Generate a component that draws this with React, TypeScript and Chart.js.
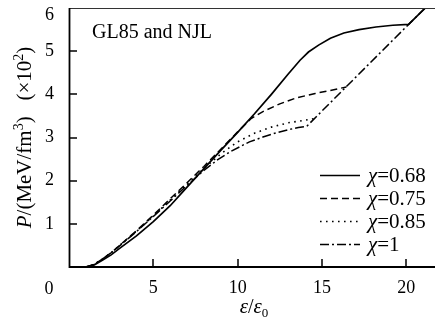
import React, { useEffect, useRef } from "react";
import { Chart, registerables } from "chart.js";

Chart.register(...registerables);

const xTicks = [5, 10, 15, 20];
const yTicks = [1, 2, 3, 4, 5];
const yTopTick = 6;
const chiLabels = ["0.68", "0.75", "0.85", "1"];

const eps068 = [1, 1.5, 2, 2.5, 3, 4, 5, 6, 7, 8, 9, 10, 11, 12, 13, 13.7, 14.2, 14.8, 15.5, 16.3, 17.2, 18.2, 19.2, 20.14, 21.2];
const p068 = [0, 0.05, 0.16, 0.28, 0.43, 0.72, 1.05, 1.42, 1.85, 2.28, 2.7, 3.12, 3.55, 4.0, 4.47, 4.79, 4.98, 5.14, 5.3, 5.42, 5.5, 5.56, 5.6, 5.62, 6.03];

const eps075 = [1, 1.5, 2, 2.5, 3, 4, 5, 6, 7, 8, 9, 10, 10.8, 11.5, 12.5, 13.5, 14.6, 15.5, 16.45];
const p075 = [0, 0.06, 0.19, 0.33, 0.5, 0.84, 1.2, 1.58, 1.95, 2.33, 2.73, 3.13, 3.44, 3.6, 3.78, 3.92, 4.02, 4.09, 4.17];

const eps085 = [1, 1.5, 2, 2.5, 3, 4, 5, 6, 7, 8, 9, 10, 11, 12, 13, 14, 14.55];
const p085 = [0, 0.06, 0.19, 0.33, 0.5, 0.83, 1.18, 1.55, 1.92, 2.28, 2.62, 2.9, 3.1, 3.24, 3.34, 3.4, 3.44];

const eps1 = [1, 1.5, 2, 2.5, 3, 4, 5, 6, 7, 8, 8.8, 9.6, 10.7, 11.5, 12.2, 13, 13.6, 14.1, 16.45, 20.14, 21.2];
const p1 = [0, 0.06, 0.19, 0.33, 0.49, 0.82, 1.17, 1.53, 1.89, 2.24, 2.48, 2.68, 2.9, 3.01, 3.1, 3.18, 3.23, 3.26, 4.18, 5.62, 6.03];

const SERIF = '"Liberation Serif", "Times New Roman", serif';
const dashes: number[][] = [[], [7, 4], [1.6, 4.4], [9, 3, 2, 3]];
const widths = [1.7, 1.5, 1.6, 1.5];

const toPts = (xs: number[], ys: number[]) => xs.map((x, i) => ({ x, y: ys[i] }));

function drawParts(ctx: CanvasRenderingContext2D, parts: { t: string; f: string; dy?: number }[], x: number, y: number, align: "center" | "left") {
  let total = 0;
  const ws = parts.map((p) => {
    ctx.font = p.f;
    const w = ctx.measureText(p.t).width;
    total += w;
    return w;
  });
  let cx = align === "center" ? x - total / 2 : x;
  parts.forEach((p, i) => {
    ctx.font = p.f;
    ctx.fillText(p.t, cx, y + (p.dy || 0));
    cx += ws[i];
  });
}

const noPad = (s: any) => {
  s.paddingTop = 0;
  s.paddingBottom = 0;
  s.paddingLeft = 0;
  s.paddingRight = 0;
};

const decor = {
  id: "decor",
  afterDraw(chart: any) {
    const ctx: CanvasRenderingContext2D = chart.ctx;
    const { left, right, top, bottom } = chart.chartArea;
    const xs = chart.scales.x;
    const ys = chart.scales.y;
    ctx.save();
    ctx.globalAlpha = 1;
    ctx.setLineDash([]);
    // frame
    ctx.lineWidth = 1.2;
    ctx.strokeStyle = "#333";
    ctx.beginPath();
    ctx.moveTo(left, top + 0.5);
    ctx.lineTo(right, top + 0.5);
    ctx.lineTo(right, bottom);
    ctx.stroke();
    ctx.strokeStyle = "#000";
    ctx.lineWidth = 1.8;
    ctx.beginPath();
    ctx.moveTo(left + 0.5, top);
    ctx.lineTo(left + 0.5, bottom);
    ctx.lineTo(right, bottom);
    ctx.stroke();
    // inward ticks
    ctx.fillStyle = "#000";
    xTicks.forEach((v) => {
      const px = xs.getPixelForValue(v);
      ctx.fillRect(Math.round(px) - 0.75, bottom - 8, 1.5, 8);
    });
    yTicks.forEach((v) => {
      const py = ys.getPixelForValue(v);
      ctx.fillRect(left, Math.round(py) - 0.75, 8, 1.5);
    });

    ctx.fillStyle = "#000";
    ctx.textBaseline = "alphabetic";
    ctx.textAlign = "center";
    ctx.font = `18px ${SERIF}`;
    ctx.fillText("0", 49, 294);
    ctx.textAlign = "right";
    ctx.fillText(String(yTopTick), left - 15, 20);
    ctx.textAlign = "left";
    drawParts(ctx, [
      { t: "ε", f: `italic 21px ${SERIF}` },
      { t: "/", f: `20px ${SERIF}` },
      { t: "ε", f: `italic 21px ${SERIF}` },
      { t: "0", f: `13px ${SERIF}`, dy: 4 },
    ], 254, 313, "center");
    ctx.save();
    ctx.translate(31, (top + bottom) / 2);
    ctx.rotate(-Math.PI / 2);
    drawParts(ctx, [
      { t: "P", f: `italic 21px ${SERIF}` },
      { t: "/(MeV/fm", f: `21px ${SERIF}` },
      { t: "3", f: `14px ${SERIF}`, dy: -8 },
      { t: ")   (×10", f: `21px ${SERIF}` },
      { t: "2", f: `14px ${SERIF}`, dy: -8 },
      { t: ")", f: `21px ${SERIF}` },
    ], 0, 0, "center");
    ctx.restore();
    ctx.font = `20px ${SERIF}`;
    ctx.fillText("GL85 and NJL", 92, 38);
    const rows = [175, 198, 221, 244];
    rows.forEach((ry, i) => {
      ctx.lineWidth = widths[i];
      ctx.setLineDash(dashes[i]);
      ctx.beginPath();
      ctx.moveTo(320, ry + 0.5);
      ctx.lineTo(360, ry + 0.5);
      ctx.stroke();
      ctx.setLineDash([]);
      drawParts(ctx, [
        { t: "χ", f: `italic 21px ${SERIF}` },
        { t: "=" + chiLabels[i], f: `21px ${SERIF}` },
      ], 368, ry + 7, "left");
    });
    ctx.restore();
  },
};

export default function App() {
  const ref = useRef<HTMLCanvasElement>(null);
  useEffect(() => {
    if (!ref.current) return;
    const series = [toPts(eps068, p068), toPts(eps075, p075), toPts(eps085, p085), toPts(eps1, p1)];
    const chart = new Chart(ref.current, {
      type: "line",
      data: {
        datasets: series.map((d, i) => ({
          label: "χ=" + chiLabels[i],
          data: d,
          borderColor: "#000",
          borderWidth: widths[i],
          borderDash: dashes[i],
          pointRadius: 0,
          fill: false,
          tension: 0,
        })),
      },
      options: {
        animation: false,
        responsive: false,
        devicePixelRatio: 1,
        layout: { padding: { top: 8, right: 10, left: 0, bottom: 0 } },
        plugins: { legend: { display: false }, tooltip: { enabled: false } },
        scales: {
          x: {
            type: "linear",
            min: 0,
            max: 22,
            afterBuildTicks: (s: any) => {
              s.ticks = xTicks.map((v) => ({ value: v }));
            },
            afterFit: (s: any) => {
              s.height = 59;
              noPad(s);
            },
            grid: { display: false, drawTicks: false },
            border: { display: false },
            ticks: { color: "#000", font: { family: SERIF, size: 18 }, padding: 10, maxRotation: 0, autoSkip: false },
          },
          y: {
            type: "linear",
            min: 0,
            max: 6,
            afterBuildTicks: (s: any) => {
              s.ticks = yTicks.map((v) => ({ value: v }));
            },
            afterFit: (s: any) => {
              s.width = 69;
              noPad(s);
            },
            grid: { display: false, drawTicks: false },
            border: { display: false },
            ticks: { color: "#000", font: { family: SERIF, size: 18 }, padding: 15, autoSkip: false },
          },
        },
      },
      plugins: [decor],
    });
    return () => chart.destroy();
  }, []);
  return (
    <div style={{ position: "fixed", left: 0, top: 0, width: 435, height: 326, overflow: "hidden", background: "#fff" }}>
      <canvas ref={ref} width={450} height={326} style={{ display: "block" }} />
    </div>
  );
}
